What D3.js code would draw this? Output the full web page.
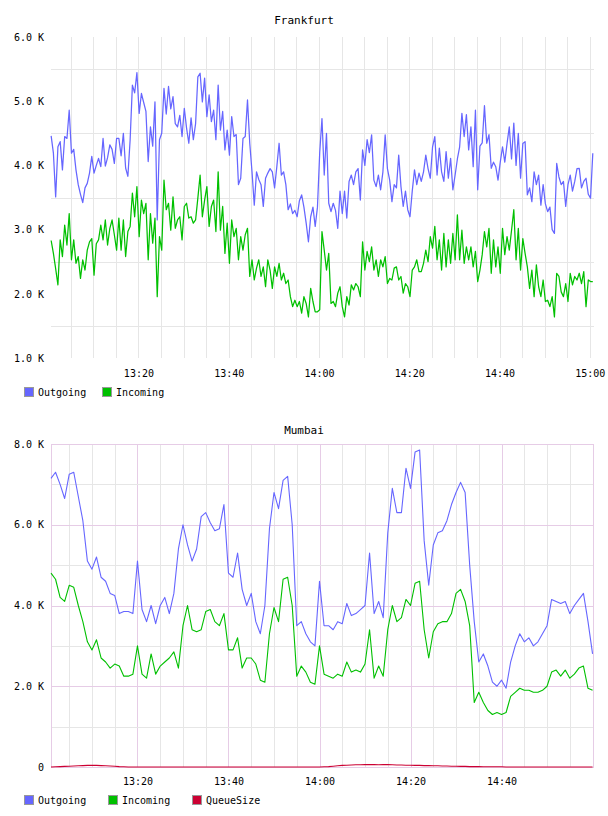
<!DOCTYPE html>
<html lang="en">
<head>
<meta charset="UTF-8">
<title>Frankfurt / Mumbai</title>
<script src="https://d3js.org/d3.v7.min.js"></script>
<style>
    body { margin: 0; background: #fff; }
    svg text { font-family: "DejaVu Sans Mono", monospace; font-size: 10px; fill: #000; }
    svg text.title { font-size: 11px; }
</style>
</head>
<body>
<div id="chart"></div>
<script>
// ---- data ----
const fraTimeLabels = ["13:20", "13:40", "14:00", "14:20", "14:40", "15:00"];
const mumTimeLabels = ["13:20", "13:40", "14:00", "14:20", "14:40"];
const fraYLabels = [1000, 2000, 3000, 4000, 5000, 6000];
const mumYLabels = [0, 2000, 4000, 6000, 8000];

// Frankfurt, one sample every 30 s from 13:00:40
const fraStart = "13:00:40";
const fraStepSec = 30;
const fraOutgoing = [
    4460, 4190, 3510, 4290, 4370, 3930, 4450, 4420, 4860, 4190,
    4250, 3930, 3700, 3550, 3420, 3650, 3720, 3880, 4140, 3880,
    4000, 4110, 3980, 4420, 3990, 4120, 4320, 4250, 4030, 4420,
    4420, 4150, 4500, 3960, 3830, 4400, 5250, 5130, 5445, 4810,
    5120, 4980, 4840, 4060, 4600, 4300, 4990, 3150, 4400, 4500,
    5200, 4800, 5230, 4880, 5070, 4650, 4600, 4780, 4450, 4890,
    4580, 4345, 4740, 4400, 4650, 5380, 5436, 4990, 5360, 4760,
    5100, 4680, 4860, 4400, 5250, 4550, 4840, 4240, 4550, 4160,
    4760, 4450, 4480, 3700, 3800, 4420, 4450, 5020, 4345, 3900,
    3380, 3900, 3780, 3700, 3360, 3800, 3880, 3950, 3900, 3650,
    3980, 4345, 3850, 3900, 3700, 3310, 3400, 3250, 3300, 3200,
    3450, 3540, 3350, 3100, 2810, 3200, 3350, 3050, 3350, 4200,
    4730, 3850, 4500, 3410, 3280, 3410, 3300, 3020, 3600, 3250,
    3600, 3180, 3750, 3850, 3700, 3900, 3950, 3460, 4240, 4000,
    4400, 4200, 4475, 3770, 3670, 3850, 3620, 3900, 4475, 3950,
    3770, 3435, 3700, 3650, 4160, 3670, 3360, 3600, 3310, 3200,
    3600, 3930, 3700, 3880, 3750, 3900, 4160, 3950, 3800, 4290,
    4450, 3850, 4270, 3900, 3750, 4215, 3800, 4110, 3620, 3850,
    4100, 4290, 4810, 4450, 4790, 4240, 4600, 3980, 4860, 3620,
    4300, 4350, 4930, 4345, 4480, 3955, 4050, 3980, 3770, 4050,
    4290, 4050, 4340, 4600, 4100, 4660, 4000, 4500, 3800, 4340,
    4370, 3540, 3650, 3435, 3900, 3700, 3850, 3380, 3700, 3400,
    3280, 3350, 3000, 2940, 4030, 3820, 3700, 3750, 3360, 3700,
    3850, 3600, 3750, 3950, 3955, 3650, 3750, 3800, 3550, 3490,
    4190
];
const fraIncoming = [
    2830, 2630, 2390, 2140, 2840, 2580, 3070, 2760, 3250, 2530,
    2840, 2475, 2580, 2240, 2530, 2370, 2680, 2810, 2860, 2290,
    2780, 2840, 3070, 2840, 3150, 2760, 3020, 3150, 2920, 2680,
    3180, 2680, 3150, 2580, 2970, 3050, 3570, 3200, 3670, 2890,
    3460, 3250, 3410, 2530, 3250, 2790, 3180, 1955, 2890, 2680,
    3770, 3310, 3410, 2990, 3510, 3020, 3150, 3200, 2840, 3360,
    3410, 3180, 3200, 3100, 3150, 3490, 3850, 3200, 3460, 3670,
    3050, 3360, 3460, 2970, 3900, 2990, 3360, 2630, 3100, 2475,
    3150, 2890, 3020, 2530, 2890, 2680, 2920, 3020, 2270, 2530,
    2215, 2400, 2530, 2270, 2420, 2110, 2530, 2370, 2085, 2420,
    2270, 2475, 2215, 2320, 2160, 2215, 1955, 1800, 1900, 1800,
    1880, 1700, 1955, 1850, 1640, 2085, 1880, 1720, 1720, 1750,
    2970, 2680, 2370, 2630, 1850, 1880, 1800, 2010, 2110, 1800,
    1640, 1955, 1825, 2140, 2060, 2160, 2110, 1955, 2810, 2370,
    2660, 2500, 2730, 2370, 2530, 2270, 2530, 2420, 2580, 2160,
    2240, 2215, 2400, 2420, 2215, 2270, 2010, 2160, 2110, 1955,
    2370, 2420, 2530, 2345, 2345, 2475, 2680, 2500, 2890, 2710,
    3050, 2530, 2840, 2370, 2940, 2420, 2840, 2475, 2940, 2530,
    3230, 2530, 2990, 2475, 2730, 2530, 2730, 2420, 2660, 2190,
    2370, 2610, 2970, 2730, 3020, 2320, 2840, 2420, 2730, 2320,
    3020, 2610, 2890, 2680, 2990, 3310, 2530, 3020, 2370, 2860,
    2630, 2420, 2085, 2370, 1955, 2450, 2110, 1955, 2215, 1880,
    1900, 1800, 1955, 1640, 2320, 2270, 2030, 1955, 2160, 1880,
    2320, 2140, 2270, 2215, 2320, 2160, 2345, 1800, 2215, 2190,
    2190
];

// Mumbai, one sample per minute from 13:01
const mumStart = "13:01:00";
const mumStepSec = 60;
const mumOutgoing = [
    7150, 7300, 7000, 6650, 7250, 7300, 6700, 6100, 5100, 4900,
    5200, 4700, 4600, 4300, 4250, 3800, 3850, 3850, 3800, 5100,
    3900, 3600, 4000, 3550, 4000, 4200, 3800, 4300, 5400, 6000,
    5500, 5100, 5400, 6200, 6300, 6050, 5850, 5900, 6500, 4800,
    4700, 5300, 4400, 4000, 4300, 3600, 3300, 4000, 5900, 6800,
    6400, 7100, 7200, 6000, 3500, 3600, 3300, 3100, 3000, 4600,
    3500, 3500, 3400, 3600, 3550, 4050, 3750, 3800, 3900, 4000,
    5300, 3800, 4100, 3700, 5800, 6900, 6300, 6300, 7400, 6900,
    7800, 7850, 5600, 4500, 5500, 5800, 5850, 6100, 6500, 6800,
    7050, 6800, 5000, 3600, 2600, 2800, 2500, 2100, 2000, 2150,
    1950, 2600, 3000, 3300, 3100, 3200, 3000, 3100, 3300, 3500,
    4150, 4100, 4050, 4100, 3800, 4000, 4150, 4300, 3600, 2800
];
const mumIncoming = [
    4800, 4650, 4200, 4100, 4500, 4450, 4000, 3600, 3100, 2900,
    3150, 2700, 2600, 2450, 2550, 2500, 2250, 2250, 2300, 3000,
    2300, 2200, 2800, 2300, 2500, 2600, 2700, 2850, 2450, 3500,
    4000, 3400, 3350, 3400, 3850, 3900, 3600, 3500, 3800, 2900,
    2900, 3200, 2450, 2700, 2700, 2550, 2150, 2100, 3300, 3950,
    3600, 4650, 4700, 4000, 2250, 2500, 2350, 2100, 2050, 3000,
    2300, 2250, 2200, 2300, 2250, 2600, 2350, 2400, 2350, 2550,
    3400, 2200, 2500, 2250, 3400, 4000, 3600, 3700, 4150, 4000,
    4550, 4600, 3400, 2700, 3350, 3550, 3600, 3600, 3800, 4300,
    4400, 4100, 3500, 1600, 1850, 1600, 1400, 1300, 1350, 1300,
    1350, 1750, 1850, 1950, 1900, 1900, 1850, 1850, 1900, 2000,
    2350, 2400, 2250, 2400, 2200, 2300, 2450, 2500, 1950, 1900
];
const mumQueueSize = [
    0, 5, 10, 15, 20, 25, 30, 35, 40, 40,
    40, 35, 30, 25, 20, 10, 5, 0, 0, 0,
    0, 0, 0, 0, 0, 0, 0, 0, 0, 0,
    0, 0, 0, 0, 0, 0, 0, 0, 0, 0,
    0, 0, 0, 0, 0, 0, 0, 0, 0, 0,
    0, 0, 0, 0, 0, 0, 0, 0, 0, 0,
    5, 10, 20, 30, 40, 45, 50, 55, 55, 60,
    60, 60, 55, 60, 60, 55, 50, 50, 45, 45,
    40, 40, 35, 35, 30, 30, 25, 25, 20, 20,
    15, 15, 10, 10, 10, 5, 5, 5, 5, 5,
    0, 0, 0, 0, 0, 0, 0, 0, 0, 0,
    0, 0, 0, 0, 0, 0, 0, 0, 0, 0
];

const seriesColors = { Outgoing: "#6666ff", Incoming: "#00c000", QueueSize: "#cc0033" };

// ---- drawing ----
const W = 608, H = 816;
const svg = d3.select("#chart").append("svg").attr("width", W).attr("height", H);

const parseHMS = d3.timeParse("%H:%M:%S");
const parseHM = d3.timeParse("%H:%M");
const fmtK = v => v === 0 ? "0" : (v / 1000).toFixed(1) + " K";

function drawChart(c) {
    const x = d3.scaleTime().domain(c.xDomain.map(parseHMS)).range([c.left, c.right]);
    const y = d3.scaleLinear().domain(c.yDomain).range([c.bottom, c.top]);
    const g = svg.append("g");

    g.append("text")
        .attr("class", "title")
        .attr("x", W / 2)
        .attr("y", c.titleY)
        .attr("text-anchor", "middle")
        .text(c.title);

    // vertical grid, every 5 minutes
    const gridTimes = x.ticks(d3.timeMinute.every(5)).filter(d => x(d) < c.right - 3);
    const vg = g.append("g")
        .attr("transform", `translate(0,${c.bottom})`)
        .call(d3.axisBottom(x).tickValues(gridTimes).tickSize(-(c.bottom - c.top)).tickFormat(""));
    vg.select(".domain").remove();
    vg.selectAll(".tick line")
        .attr("stroke", d => c.majorColor && d.getMinutes() % 20 === 0 ? c.majorColor : c.gridColor)
        .attr("shape-rendering", "crispEdges");

    // horizontal grid
    const hg = g.append("g")
        .attr("transform", `translate(${c.left},0)`)
        .call(d3.axisLeft(y).tickValues(c.yGrid).tickSize(-(c.right - c.left)).tickFormat(""));
    hg.select(".domain").remove();
    hg.selectAll(".tick line")
        .attr("stroke", d => c.majorColor && d % 2000 === 0 ? c.majorColor : c.gridColor)
        .attr("shape-rendering", "crispEdges");

    if (c.frame) {
        g.append("rect")
            .attr("x", c.left + 0.5).attr("y", c.top + 0.5)
            .attr("width", c.right - c.left - 1).attr("height", c.bottom - c.top)
            .attr("fill", "none").attr("stroke", c.majorColor);
    }

    // y labels
    const ya = g.append("g")
        .attr("transform", `translate(${c.left},0)`)
        .call(d3.axisLeft(y).tickValues(c.yLabels).tickFormat(fmtK).tickSize(0).tickPadding(7));
    ya.select(".domain").remove();
    ya.selectAll("text").attr("fill", "#000");

    // time labels
    const xa = g.append("g")
        .attr("transform", `translate(0,${c.bottom})`)
        .call(d3.axisBottom(x).tickValues(c.timeLabels.map(parseHM)).tickFormat(d3.timeFormat("%H:%M")).tickSize(0).tickPadding(c.xPad));
    xa.select(".domain").remove();
    xa.selectAll("text").attr("fill", "#000");

    // lines
    const t0 = parseHMS(c.start).getTime();
    const line = d3.line()
        .x((d, i) => x(new Date(t0 + i * c.stepSec * 1000)))
        .y(d => y(d));
    c.series.forEach(s => {
        g.append("path")
            .datum(s.values)
            .attr("fill", "none")
            .attr("stroke", seriesColors[s.name])
            .attr("stroke-width", c.lineWidth)
            .attr("stroke-linejoin", "round")
            .attr("d", line);
    });

    // legend
    const maxChars = d3.max(c.series, s => s.name.length);
    const itemW = 30 + maxChars * 6;
    const lg = g.append("g").attr("transform", `translate(24,${c.legendY})`);
    c.series.forEach((s, i) => {
        const it = lg.append("g").attr("transform", `translate(${i * itemW},0)`);
        it.append("rect")
            .attr("x", 0.5).attr("y", -4.5)
            .attr("width", 9).attr("height", 9)
            .attr("fill", seriesColors[s.name])
            .attr("stroke", "#999");
        it.append("text")
            .attr("x", 14)
            .attr("y", 0)
            .attr("dy", "0.35em")
            .text(s.name);
    });
}

drawChart({
    title: "Frankfurt", titleY: 24,
    left: 51, right: 594, top: 37, bottom: 358,
    xDomain: ["13:00:38", "15:00:56"],
    yDomain: [1000, 6000],
    yGrid: [1500, 2500, 3500, 4500, 5500],
    yLabels: fraYLabels,
    timeLabels: fraTimeLabels, xPad: 12,
    gridColor: "#e6e6e6", majorColor: null, frame: false,
    start: fraStart, stepSec: fraStepSec, lineWidth: 1.25,
    series: [
        { name: "Outgoing", values: fraOutgoing },
        { name: "Incoming", values: fraIncoming }
    ],
    legendY: 392
});

drawChart({
    title: "Mumbai", titleY: 434,
    left: 51, right: 594, top: 444, bottom: 767,
    xDomain: ["13:01:00", "15:00:19"],
    yDomain: [0, 8000],
    yGrid: [1000, 2000, 3000, 4000, 5000, 6000, 7000],
    yLabels: mumYLabels,
    timeLabels: mumTimeLabels, xPad: 11,
    gridColor: "#e6e6e6", majorColor: "#e6cce6", frame: true,
    start: mumStart, stepSec: mumStepSec, lineWidth: 1.1,
    series: [
        { name: "Outgoing", values: mumOutgoing },
        { name: "Incoming", values: mumIncoming },
        { name: "QueueSize", values: mumQueueSize }
    ],
    legendY: 800
});
</script>
</body>
</html>
